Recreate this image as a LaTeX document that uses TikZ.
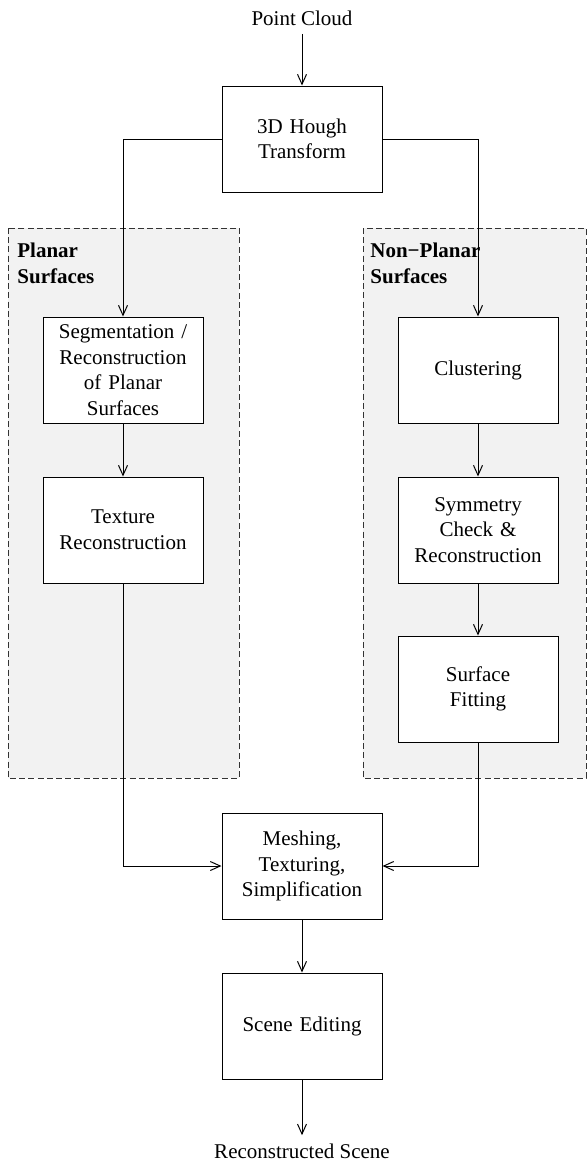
\documentclass[tikz,border=0pt]{standalone}
\usepackage{fontspec}
\setmainfont{Liberation Serif}
\usetikzlibrary{arrows.meta}

\tikzset{
  block/.style={draw, fill=white, line width=0.5pt, minimum width=80pt,
    minimum height=53pt, inner sep=1pt, text width=76pt, align=center},
  terminal/.style={inner sep=4pt},
  flow/.style={line width=0.5pt, -{Straight Barb[length=5pt,width=4.5pt]}},
  group/.style={draw=black!80, line width=0.5pt, dash pattern=on 3pt off 1.6pt, fill=black!5},
  grouplabel/.style={anchor=north west, inner sep=0pt, align=left, font=\fontsize{10.5}{12.8}\selectfont\bfseries}
}

\begin{document}
\begin{tikzpicture}[x=0.5pt, y=-0.5pt, font=\fontsize{10.5}{12.8}\selectfont]
\useasboundingbox (0,0) rectangle (587,1163);

% dashed groups
\draw[group] (8,228) rectangle (239,778);
\draw[group] (363,228) rectangle (586,778);
\node[grouplabel] (planar) at (17,243) {Planar\\Surfaces};
\node[grouplabel] (nonplanar) at (370,243) {Non−Planar\\Surfaces};

% blocks
\node[terminal] (cloud) at (302,18) {Point Cloud};
\node[block] (hough) at (302,139) {3D Hough\\Transform};
\node[block] (seg) at (123,370) {Segmentation /\\Reconstruction\\of Planar\\Surfaces};
\node[block] (tex) at (123,530) {Texture\\Reconstruction};
\node[block] (clus) at (478,370) {Clustering};
\node[block] (sym) at (478,530) {Symmetry\\Check \&\\Reconstruction};
\node[block] (fit) at (478,689) {Surface\\Fitting};
\node[block] (mesh) at (302,866) {Meshing,\\Texturing,\\Simplification};
\node[block] (edit) at (302,1026) {Scene Editing};
\node[terminal] (scene) at (302,1151) {Reconstructed Scene};

% arrows
\draw[flow] (cloud) -- (hough);
\draw[flow] (hough.west) -| (seg.north);
\draw[flow] (hough.east) -| (clus.north);
\draw[flow] (seg) -- (tex);
\draw[flow] (clus) -- (sym);
\draw[flow] (sym) -- (fit);
\draw[flow] (tex.south) |- (mesh.west);
\draw[flow] (fit.south) |- (mesh.east);
\draw[flow] (mesh) -- (edit);
\draw[flow] (edit) -- (scene);
\end{tikzpicture}
\end{document}
